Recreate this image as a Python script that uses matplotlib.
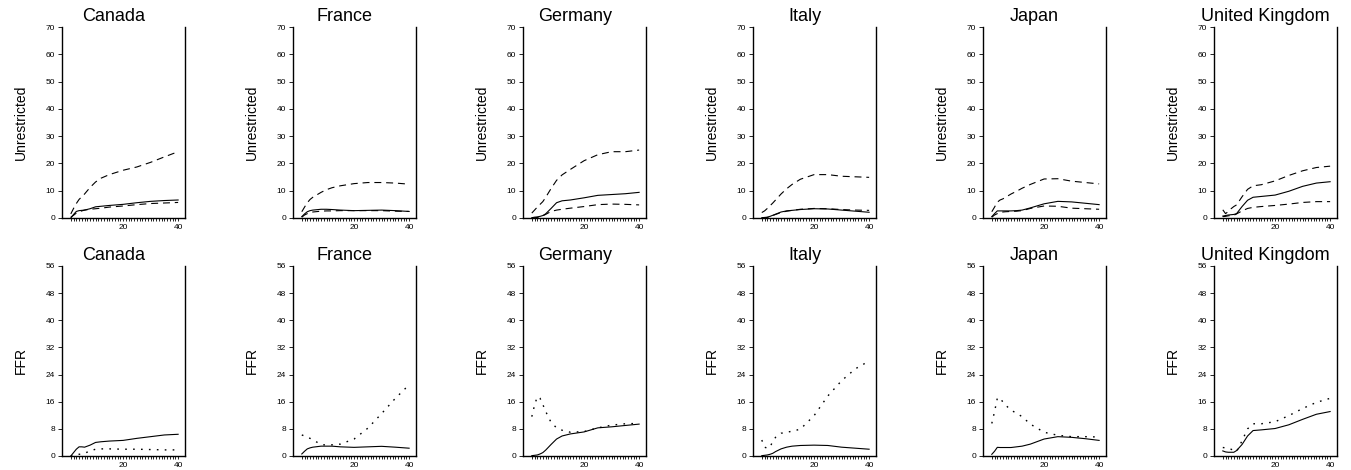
import matplotlib
matplotlib.use("Agg")
import matplotlib.pyplot as plt

plt.rcParams['font.family'] = ['Liberation Sans', 'DejaVu Sans']
plt.rcParams['lines.scale_dashes'] = False

# horizontes
horizons = [1, 2, 3, 4, 5, 6, 8, 10, 12, 15, 20, 25, 30, 35, 40]
countries = ["Canada", "France", "Germany", "Italy", "Japan", "United Kingdom"]

# fila superior: Unrestricted (mediana y bandas)
unres_mid = {
    "Canada":  [0.0, 1.3, 2.4, 2.7, 2.8, 2.9, 3.4, 4.1, 4.3, 4.6, 5.0, 5.6, 6.1, 6.4, 6.6],
    "France":  [0.5, 1.5, 2.3, 2.7, 2.9, 3.0, 3.2, 3.2, 3.1, 2.9, 2.7, 2.8, 2.9, 2.7, 2.4],
    "Germany": [0.1, 0.3, 0.4, 0.6, 0.9, 1.5, 3.5, 5.6, 6.3, 6.6, 7.4, 8.3, 8.6, 8.9, 9.4],
    "Italy":   [0.1, 0.2, 0.3, 0.6, 1.0, 1.4, 2.2, 2.6, 2.8, 3.1, 3.4, 3.3, 2.9, 2.5, 2.1],
    "Japan":   [0.5, 1.6, 2.6, 2.6, 2.6, 2.6, 2.6, 2.7, 2.9, 3.7, 5.2, 6.1, 5.9, 5.4, 4.9],
    "United Kingdom": [0.7, 0.9, 1.1, 1.2, 1.3, 1.6, 4.2, 6.5, 7.6, 7.9, 8.4, 9.8, 11.6, 12.8, 13.3],
}
unres_hi = {
    "Canada":  [1.5, 3.5, 5.3, 6.8, 7.8, 8.8, 11.2, 13.2, 14.6, 15.9, 17.5, 18.7, 20.4, 22.4, 24.3],
    "France":  [2.3, 4.0, 5.6, 6.8, 7.6, 8.2, 9.4, 10.4, 11.1, 11.8, 12.6, 13.0, 13.0, 12.8, 12.4],
    "Germany": [1.8, 2.9, 4.0, 5.0, 6.0, 7.5, 10.8, 13.8, 15.8, 17.8, 21.0, 23.2, 24.3, 24.3, 24.9],
    "Italy":   [2.0, 2.6, 3.5, 4.5, 5.5, 6.6, 8.8, 10.7, 12.3, 14.2, 15.9, 15.9, 15.3, 15.1, 14.9],
    "Japan":   [2.3, 4.0, 5.8, 6.6, 7.0, 7.6, 8.8, 9.8, 10.9, 12.3, 14.3, 14.4, 13.5, 13.0, 12.5],
    "United Kingdom": [3.0, 1.6, 2.4, 3.4, 4.2, 4.8, 7.8, 10.5, 11.8, 12.2, 13.6, 15.6, 17.3, 18.5, 19.0],
}
unres_lo = {
    "Canada":  [0.3, 1.0, 1.8, 2.3, 2.6, 2.9, 3.2, 3.4, 3.6, 4.0, 4.4, 4.9, 5.3, 5.5, 5.7],
    "France":  [0.3, 1.1, 1.6, 2.0, 2.2, 2.3, 2.5, 2.6, 2.6, 2.7, 2.7, 2.7, 2.7, 2.5, 2.4],
    "Germany": [0.0, 0.1, 0.2, 0.4, 0.8, 1.3, 2.4, 2.9, 3.2, 3.6, 4.2, 4.9, 5.1, 5.0, 4.8],
    "Italy":   [0.0, 0.1, 0.2, 0.5, 0.9, 1.3, 2.0, 2.5, 2.8, 3.2, 3.5, 3.4, 3.1, 2.9, 2.8],
    "Japan":   [0.3, 1.1, 1.6, 2.0, 2.2, 2.3, 2.4, 2.5, 2.7, 3.5, 4.4, 4.3, 3.6, 3.4, 3.2],
    "United Kingdom": [0.5, 0.6, 0.8, 0.9, 1.0, 1.5, 2.6, 3.5, 3.9, 4.2, 4.6, 5.1, 5.7, 6.0, 6.0],
}

# fila inferior: FFR (linea continua y punteada)
ffr_mid = {
    "Canada":  [0.0, 1.0, 2.0, 2.7, 2.7, 2.6, 3.2, 4.0, 4.2, 4.4, 4.6, 5.2, 5.7, 6.2, 6.4],
    "France":  [0.6, 1.4, 2.1, 2.4, 2.6, 2.7, 2.9, 2.9, 2.9, 2.7, 2.55, 2.7, 2.85, 2.6, 2.3],
    "Germany": [0.1, 0.2, 0.3, 0.6, 1.0, 1.7, 3.4, 5.0, 5.9, 6.5, 7.1, 8.3, 8.6, 9.0, 9.4],
    "Italy":   [0.1, 0.2, 0.3, 0.5, 0.8, 1.3, 2.1, 2.6, 2.9, 3.1, 3.2, 3.1, 2.6, 2.3, 2.0],
    "Japan":   [0.5, 1.4, 2.55, 2.5, 2.5, 2.5, 2.5, 2.7, 2.9, 3.5, 5.0, 5.7, 5.5, 5.1, 4.6],
    "United Kingdom": [1.5, 1.2, 1.1, 1.1, 1.1, 1.6, 3.4, 5.9, 7.5, 7.7, 8.1, 9.2, 10.8, 12.3, 13.1],
}
ffr_dot = {
    "Canada":  [0.0, 0.1, 0.3, 0.5, 0.6, 0.8, 1.5, 2.0, 2.1, 2.1, 2.0, 2.0, 1.9, 1.8, 1.8],
    "France":  [6.2, 5.9, 5.5, 5.2, 4.8, 4.3, 3.4, 3.2, 3.3, 3.5, 5.0, 8.2, 12.5, 17.0, 21.0],
    "Germany": [11.6, 15.0, 17.5, 17.0, 15.2, 13.2, 9.9, 8.3, 7.6, 7.0, 7.2, 8.3, 9.1, 9.5, 9.6],
    "Italy":   [4.7, 2.6, 2.3, 2.6, 4.4, 5.5, 6.7, 7.0, 7.3, 7.9, 11.9, 17.7, 22.2, 25.7, 28.0],
    "Japan":   [9.6, 13.1, 17.0, 17.2, 15.9, 15.0, 13.5, 12.6, 11.6, 9.4, 7.0, 6.1, 5.7, 5.7, 5.6],
    "United Kingdom": [2.5, 2.4, 2.3, 2.0, 1.6, 1.3, 4.5, 8.0, 9.5, 9.5, 10.1, 11.9, 14.0, 15.8, 17.0],
}

W, H = 1351, 470
fig = plt.figure(figsize=(W / 100, H / 100), dpi=100)

lefts = [62, 293, 523, 753, 983, 1214]
ax_w = 123
rows = [
    # (top px, bottom px, ylabel, ymax, step)
    (27, 218, "Unrestricted", 70, 10),
    (266, 456, "FFR", 56, 8),
]

for r, (top, bot, ylab, ymax, step) in enumerate(rows):
    for c, name in enumerate(countries):
        ax = fig.add_axes([lefts[c] / W, 1 - bot / H, ax_w / W, (bot - top) / H])
        if r == 0:
            ax.plot(horizons, unres_mid[name], color='black', lw=0.8)
            ax.plot(horizons, unres_hi[name], color='black', lw=0.8, dashes=(5, 3.5))
            ax.plot(horizons, unres_lo[name], color='black', lw=0.8, dashes=(5, 3.5))
        else:
            ax.plot(horizons, ffr_mid[name], color='black', lw=0.8)
            ax.plot(horizons, ffr_dot[name], color='black', lw=1.0, dashes=(1.2, 4.5))

        ax.set_xlim(-2.2, 42.5)
        ax.set_ylim(0, ymax)
        ax.set_yticks(range(0, ymax + 1, step))
        ax.set_xticks([20, 40])
        ax.set_xticks(range(1, 41), minor=True)
        ax.spines['top'].set_visible(False)
        for s in ['left', 'right', 'bottom']:
            ax.spines[s].set_linewidth(1.0)
        ax.tick_params(axis='y', direction='out', length=3, width=0.6, pad=2, labelsize=6)
        ax.tick_params(axis='x', which='both', direction='out', length=2.2, width=0.6, pad=2, labelsize=6)

        ax.text(0.42, 1.03, name, transform=ax.transAxes, ha='center', va='baseline', fontsize=13)
        ax.set_ylabel(ylab, fontsize=10)
        ax.yaxis.set_label_coords(-0.28, 0.5)

fig.savefig("out.png", dpi=100)
